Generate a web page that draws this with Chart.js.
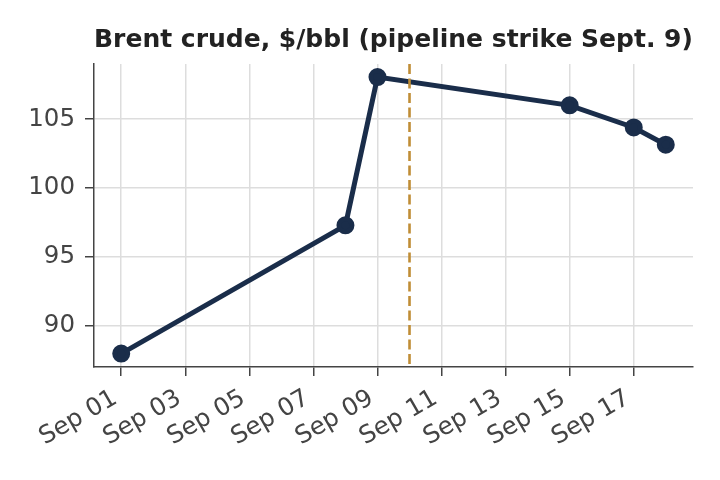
<!DOCTYPE html>
<html>
<head>
<meta charset="utf-8">
<script src="https://cdn.jsdelivr.net/npm/chart.js@4.4.1/dist/chart.umd.min.js"></script>
<style>
html,body{margin:0;padding:0;background:#fff;}
#wrap{width:720px;height:480px;position:relative;}
</style>
</head>
<body>
<div id="wrap"><canvas id="c" width="720" height="480"></canvas></div>
<script>
const dayNumbers = [1, 8, 9, 15, 17, 18];
const prices = [88.0, 97.3, 108.05, 106.0, 104.4, 103.15];
const tickDays = [1, 3, 5, 7, 9, 11, 13, 15, 17];
const tickLabels = ["Sep 01","Sep 03","Sep 05","Sep 07","Sep 09","Sep 11","Sep 13","Sep 15","Sep 17"];
const yTicks = [90, 95, 100, 105];
const strikeDay = 10;
const titleText = "Brent crude, $/bbl (pipeline strike Sept. 9)";

const FONT = "'DejaVu Sans', sans-serif";

const overlay = {
  id: 'overlay',
  beforeDraw(chart) {
    const items = chart.scales.x.getLabelItems();
    items.forEach(it => {
      if (it.options && it.options.translation) {
        it.options.translation = [it.options.translation[0] - 6, it.options.translation[1]];
      }
    });
  },
  afterDatasetsDraw(chart) {
    const {ctx, chartArea, scales} = chart;
    const x = scales.x.getPixelForValue(strikeDay);
    ctx.save();
    ctx.strokeStyle = '#c08d36';
    ctx.lineWidth = 2.6;
    ctx.setLineDash([10, 4.5]);
    ctx.beginPath();
    ctx.moveTo(x, chartArea.top);
    ctx.lineTo(x, chartArea.bottom);
    ctx.stroke();
    ctx.restore();
  },
  afterDraw(chart) {
    const {ctx, chartArea} = chart;
    ctx.save();
    ctx.font = "bold 25px " + FONT;
    ctx.fillStyle = '#222';
    ctx.textAlign = 'center';
    ctx.textBaseline = 'alphabetic';
    ctx.fillText(titleText, (chartArea.left + chartArea.right) / 2, 47);
    ctx.restore();
  }
};

new Chart(document.getElementById('c'), {
  type: 'line',
  data: {
    datasets: [{
      data: dayNumbers.map((d, i) => ({x: d, y: prices[i]})),
      borderColor: '#1a2d4a',
      backgroundColor: '#1a2d4a',
      borderWidth: 5,
      pointRadius: 6.5,
      pointHoverRadius: 6.5,
      tension: 0
    }]
  },
  options: {
    responsive: false,
    animation: false,
    devicePixelRatio: 1,
    layout: {padding: {top: 64, right: 27, left: 0, bottom: 0}},
    plugins: {legend: {display: false}, tooltip: {enabled: false}, title: {display: false}},
    scales: {
      x: {
        type: 'linear',
        min: 0.15,
        max: 18.85,
        afterBuildTicks(s) { s.ticks = tickDays.map(v => ({value: v})); },
        afterFit(s) { s.height = 113; },
        grid: {color: '#dddddd', lineWidth: 1.5, tickColor: '#444', tickLength: 9, drawTicks: true},
        border: {color: '#444', width: 1.5},
        ticks: {
          autoSkip: false,
          maxRotation: 30, minRotation: 30,
          color: '#444',
          font: {family: FONT, size: 24.5},
          padding: 8,
          callback(v) { const i = tickDays.indexOf(v); return i >= 0 ? tickLabels[i] : ''; }
        }
      },
      y: {
        min: 87.03,
        max: 109.0,
        afterBuildTicks(s) { s.ticks = yTicks.map(v => ({value: v})); },
        afterFit(s) { s.width = 94; },
        grid: {color: '#dddddd', lineWidth: 1.5, tickColor: '#444', tickLength: 9},
        border: {color: '#444', width: 1.5},
        ticks: {color: '#444', font: {family: FONT, size: 24.5}, padding: 10}
      }
    }
  },
  plugins: [overlay]
});
</script>
</body>
</html>
